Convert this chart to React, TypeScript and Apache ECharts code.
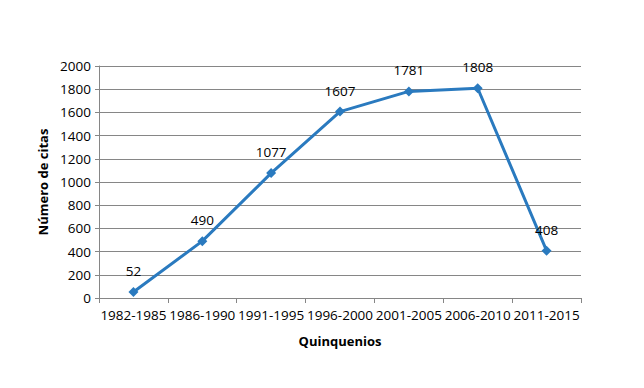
import React, { useEffect, useRef } from "react";
import * as echarts from "echarts";

const categories = ["1982-1985", "1986-1990", "1991-1995", "1996-2000", "2001-2005", "2006-2010", "2011-2015"];
const citas = [52, 490, 1077, 1607, 1781, 1808, 408];
const yTicks = { min: 0, max: 2000, interval: 200 };

const FONT = "'Open Sans', 'Liberation Sans', sans-serif";

export default function App() {
  const ref = useRef<HTMLDivElement>(null);
  useEffect(() => {
    if (!ref.current) return;
    const chart = echarts.init(ref.current, null, { renderer: "svg" });
    chart.setOption({
      animation: false,
      backgroundColor: "#ffffff",
      textStyle: { fontFamily: FONT },
      grid: { left: 91, right: 55, top: 58, bottom: 82 },
      xAxis: {
        type: "category",
        data: categories,
        boundaryGap: true,
        name: "Quinquenios",
        nameLocation: "middle",
        nameGap: 36,
        nameTextStyle: { fontFamily: FONT, fontSize: 13, fontWeight: "bold", color: "#000" },
        axisLine: { show: true, lineStyle: { color: "#868686", width: 1 } },
        axisTick: { show: true, alignWithLabel: false, length: 5, lineStyle: { color: "#868686" } },
        axisLabel: { color: "#000", fontSize: 13.5, fontFamily: FONT, margin: 10, interval: 0 },
        splitLine: { show: false },
      },
      yAxis: {
        type: "value",
        min: yTicks.min,
        max: yTicks.max,
        interval: yTicks.interval,
        name: "Número de citas",
        nameLocation: "middle",
        nameGap: 48,
        nameRotate: 90,
        nameTextStyle: { fontFamily: FONT, fontSize: 13, fontWeight: "bold", color: "#000" },
        axisLine: { show: true, lineStyle: { color: "#868686", width: 1 } },
        axisTick: { show: true, length: 4, lineStyle: { color: "#868686" } },
        axisLabel: {
          color: "#000",
          fontSize: 13.5,
          fontFamily: FONT,
          margin: 8,
          formatter: (v: number) => String(v),
        },
        splitLine: { show: true, lineStyle: { color: "#868686", width: 1 } },
      },
      series: [
        {
          type: "line",
          data: citas,
          symbol: "diamond",
          symbolSize: 10,
          lineStyle: { color: "#2a7abf", width: 3 },
          itemStyle: { color: "#2a7abf" },
          label: {
            show: true,
            position: "top",
            distance: 9,
            color: "#000",
            fontSize: 13.5,
            fontFamily: FONT,
          },
        },
      ],
    });
    return () => chart.dispose();
  }, []);
  return <div ref={ref} style={{ width: 628, height: 372 }} />;
}
